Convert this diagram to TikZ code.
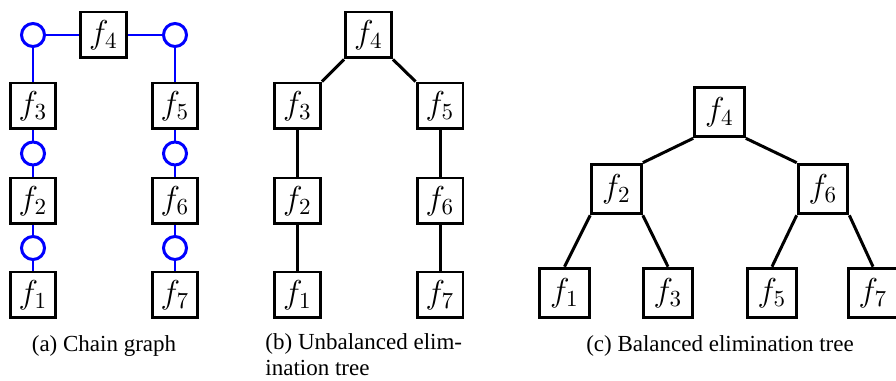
\documentclass[tikz,border=0pt]{standalone}
\usepackage[no-math]{fontspec}
\setmainfont{Liberation Serif}
\begin{document}
\begin{tikzpicture}[x=0.435pt,y=-0.435pt,
  fbox/.style={draw, line width=1.3pt, minimum size=20pt, inner sep=0pt, font=\fontsize{13.7}{16}\selectfont},
  fboxc/.style={fbox, minimum size=21.6pt},
  var/.style={circle, draw=blue, line width=1.3pt, minimum size=10pt, inner sep=0pt},
  bl/.style={blue, line width=0.5pt},
  tedge/.style={line width=1.3pt},
  captext/.style={font=\fontsize{10}{11.6}\selectfont, inner sep=0pt}]
\useasboundingbox (0,0) rectangle (896,381);

% (a) chain graph
\node[var] (ac1) at (33,35) {};
\node[fbox] (a4) at (103.5,35) {$f_4$};
\node[var] (ac2) at (175,35) {};
\node[fbox] (a3) at (33,106) {$f_3$};
\node[var] (ac3) at (33,153.5) {};
\node[fbox] (a2) at (33,201) {$f_2$};
\node[var] (ac4) at (33,248) {};
\node[fbox] (a1) at (33,295) {$f_1$};
\node[fbox] (a5) at (175,106) {$f_5$};
\node[var] (ac5) at (175,153.5) {};
\node[fbox] (a6) at (175,201) {$f_6$};
\node[var] (ac6) at (175,248) {};
\node[fbox] (a7) at (175,295) {$f_7$};
\draw[bl] (ac1) -- (a4);
\draw[bl] (a4) -- (ac2);
\draw[bl] (ac1) -- (a3);
\draw[bl] (a3) -- (ac3);
\draw[bl] (ac3) -- (a2);
\draw[bl] (a2) -- (ac4);
\draw[bl] (ac4) -- (a1);
\draw[bl] (ac2) -- (a5);
\draw[bl] (a5) -- (ac5);
\draw[bl] (ac5) -- (a6);
\draw[bl] (a6) -- (ac6);
\draw[bl] (ac6) -- (a7);
\node[captext, anchor=base] (capa) at (104,352) {(a) Chain graph};

% (b) unbalanced elimination tree
\node[fbox] (b4) at (368.5,35) {$f_4$};
\node[fbox] (b3) at (297.5,106) {$f_3$};
\node[fbox] (b5) at (440,106) {$f_5$};
\node[fbox] (b2) at (297.5,201) {$f_2$};
\node[fbox] (b6) at (440,201) {$f_6$};
\node[fbox] (b1) at (297.5,295) {$f_1$};
\node[fbox] (b7) at (440,295) {$f_7$};
\draw[tedge] (b4.south west) -- (b3.north east);
\draw[tedge] (b4.south east) -- (b5.north west);
\draw[tedge] (b3) -- (b2);
\draw[tedge] (b2) -- (b1);
\draw[tedge] (b5) -- (b6);
\draw[tedge] (b6) -- (b7);
\node[captext, anchor=base west, align=left] (capb) at (265,376) {(b) Unbalanced elim-\\ination tree};

% (c) balanced elimination tree
\node[fboxc] (c4) at (719.5,112) {$f_4$};
\node[fboxc] (c2) at (616.5,189) {$f_2$};
\node[fboxc] (c6) at (823,189) {$f_6$};
\node[fboxc] (c1) at (564.5,293) {$f_1$};
\node[fboxc] (c3) at (668,293) {$f_3$};
\node[fboxc] (c5) at (772,293) {$f_5$};
\node[fboxc] (c7) at (873,293) {$f_7$};
\draw[tedge] (c4.south west) -- (c2.north east);
\draw[tedge] (c4.south east) -- (c6.north west);
\draw[tedge] (c2.south west) -- (c1.north);
\draw[tedge] (c2.south east) -- (c3.north);
\draw[tedge] (c6.south west) -- (c5.north);
\draw[tedge] (c6.south east) -- (c7.north);
\node[captext, anchor=base] (capc) at (720,352) {(c) Balanced elimination tree};
\end{tikzpicture}
\end{document}
